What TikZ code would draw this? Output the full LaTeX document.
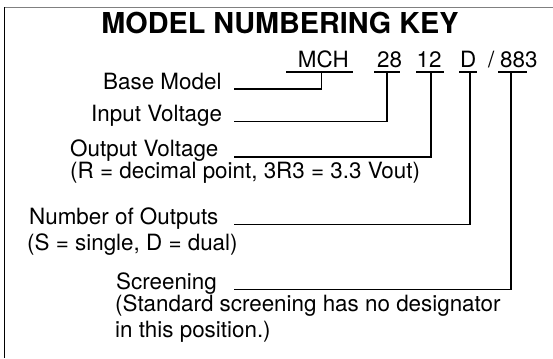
\documentclass[tikz,border=0pt]{standalone}
\usepackage{fontspec}
\setmainfont{TeX Gyre Heros}
\usetikzlibrary{positioning, calc}

\begin{document}
\begin{tikzpicture}[
  x=1pt, y=-1pt,
  wire/.style={line width=1.6pt},
  lbl/.style={font=\fontsize{22.4}{24}\selectfont, inner sep=0pt, anchor=base west},
  code/.style={font=\fontsize{22.4}{24}\selectfont, inner sep=0pt, anchor=base west}
]
\useasboundingbox (0,0) rectangle (553,358);
% Frame
\draw[gray, line width=1.4pt] (4,7.5) -- (553,7.5);
\draw[black, line width=1pt] (4,7.5) -- (4,358);
% Title
\node[font=\fontsize{28.8}{30}\selectfont\bfseries, inner sep=0pt, anchor=base] (title) at (280,34) {MODEL NUMBERING KEY};

% Model number parts
\node[code] (mch) at (297.7,67.3) {MCH};
\node[code] (vinc) at (377,67.3) {28};
\node[code] (voutc) at (416.5,67.3) {12};
\node[code] (noutc) at (460,67.3) {D};
\node[code] (slash) at (488,67.3) {/};
\node[code] (scrc) at (500,67.3) {883};
% Underlines
\draw[wire] (286,72.3) -- (353,72.3);
\draw[wire] (374,72.3) -- (400,72.3);
\draw[wire] (416,72.3) -- (444,72.3);
\draw[wire] (459,72.3) -- (477,72.3);
\draw[wire] (498,72.3) -- (527,72.3);
\coordinate (d1) at (321.5,72.3);
\coordinate (d2) at (387,72.3);
\coordinate (d3) at (431,72.3);
\coordinate (d4) at (470,72.3);
\coordinate (d5) at (511,72.3);

% Labels
\node[lbl] (basemodel) at (103,89.3) {Base Model};
\node[lbl] (vin) at (91,121.7) {Input Voltage};
\node[lbl] (vout) at (70,156.7) {Output Voltage};
\node[lbl] (voutnote) at (70,178) {(R = decimal point, 3R3 = 3.3 Vout)};
\node[lbl] (nout) at (29,224.5) {Number of Outputs};
\node[lbl] (noutnote) at (27,250) {(S = single, D = dual)};
\node[lbl] (scr) at (116,289.3) {Screening};
\node[lbl] (scrnote) at (115,311) {(Standard screening has no designator};
\node[lbl] (scrnote2) at (115,337) {in this position.)};

% Leaders
\coordinate (col) at (234,0);
\draw[wire] (col |- basemodel.base) -| (d1);
\draw[wire] (col |- vin.base) -| (d2);
\draw[wire] (col |- vout.base) -| (d3);
\draw[wire] (col |- nout.base) -| (d4);
\draw[wire] (col |- scr.base) -| (d5);
\end{tikzpicture}
\end{document}
